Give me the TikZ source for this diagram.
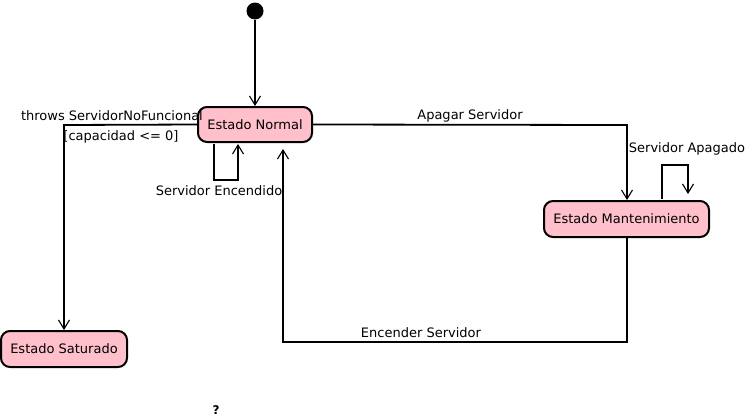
\documentclass[tikz,border=0pt]{standalone}
\usepackage{fontspec}
\setmainfont{DejaVu Sans}
\usetikzlibrary{arrows.meta}
\definecolor{statepink}{RGB}{255,192,203}
\tikzset{
  state/.style={draw=black, line width=2pt, fill=statepink, rounded corners=9pt, inner sep=0pt, font=\fontsize{13}{15}\selectfont},
  conn/.style={draw=black, line width=1.8pt, -{Straight Barb[length=9pt,width=11pt,line width=1.1pt]}},
  lbl/.style={font=\fontsize{13}{15}\selectfont, inner sep=0pt}
}
\begin{document}
\begin{tikzpicture}[x=1pt,y=-1pt]
\useasboundingbox (0,0) rectangle (746,418);
% states
\node[state, minimum width=114pt, minimum height=35pt] (normal) at (255,124.5) {Estado Normal};
\node[state, minimum width=165pt, minimum height=36pt] (mant) at (626.5,219) {Estado Mantenimiento};
\node[state, minimum width=126pt, minimum height=36pt] (sat) at (64,349) {Estado Saturado};
\node[circle, fill=black, minimum size=17pt, inner sep=0pt] (init) at (255,11) {};
% coordinates
\coordinate (n1) at (214,180);
\coordinate (n2) at (238,180);
\coordinate (a1) at (627,125);
\coordinate (m1) at (662,165);
\coordinate (m2) at (688,165);
\coordinate (e1) at (627,342);
\coordinate (e2) at (283,342);
\coordinate (s1) at (64,125);
% connectors
\draw[conn] (init) -- (normal.north);
\draw[conn] ([yshift=-1pt]normal.south -| n1) -- (n1) -- (n2) -- ([yshift=-1pt]normal.south -| n2);
\draw[conn] (normal.east) -- (a1) -- (mant.north -| a1);
\draw[conn] ([yshift=1pt]mant.north -| m1) -- (m1) -- (m2) -- ([yshift=6pt]mant.north -| m2);
\draw[conn] (mant.south -| e1) -- (e1) -- (e2) -- ([yshift=-6pt]normal.south -| e2);
\draw[conn] (normal.west) -- (s1) -- (sat.north -| s1);
% labels
\node[lbl] (l1) at (219,191) {Servidor Encendido};
\node[lbl] (l2) at (470,116) {Apagar Servidor};
\node[lbl] (l3) at (687,149) {Servidor Apagado};
\node[lbl] (l4) at (421,333) {Encender Servidor};
\node[lbl, anchor=east] (l5) at (203,116) {throws ServidorNoFuncional};
\node[lbl] (l6) at (121,137) {[capacidad <= 0]};
\node[font=\fontsize{12}{12}\selectfont\bfseries, inner sep=0pt] (q) at (216,410) {?};
\end{tikzpicture}
\end{document}
